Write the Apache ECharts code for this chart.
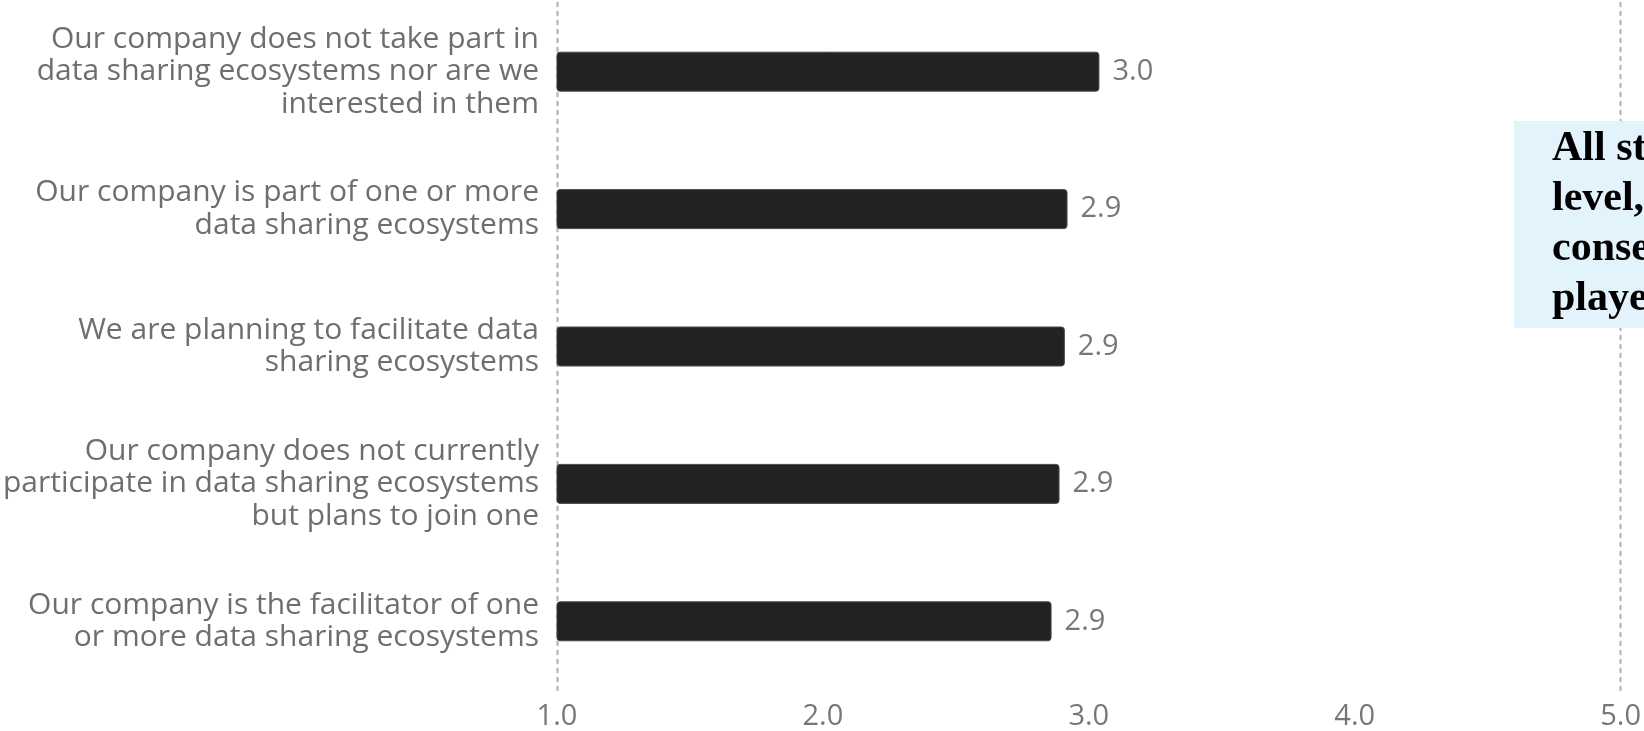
<!DOCTYPE html>
<html>
<head>
<meta charset="utf-8">
<script src="https://cdn.jsdelivr.net/npm/echarts@6/dist/echarts.min.js"></script>
<style>
  html, body { margin: 0; padding: 0; background: #ffffff; }
  #chart { width: 1644px; height: 731px; }
</style>
</head>
<body>
<div id="chart"></div>
<script>
// Survey answers (top to bottom) and their mean scores on a 1–5 scale
const categories = [
  'Our company does not take part in\ndata sharing ecosystems nor are we\ninterested in them',
  'Our company is part of one or more\ndata sharing ecosystems',
  'We are planning to facilitate data\nsharing ecosystems',
  'Our company does not currently\nparticipate in data sharing ecosystems\nbut plans to join one',
  'Our company is the facilitator of one\nor more data sharing ecosystems'
];
const scores = [3.04, 2.92, 2.91, 2.89, 2.86];
const scaleTicks = [1, 2, 3, 4, 5];

// Side note text, clipped by the right edge of the canvas
const noteLines = ['All st', 'level,', 'conse', 'playe'];

const chart = echarts.init(document.getElementById('chart'), null, { renderer: 'canvas' });

const dotted = { color: '#bdbdbd', width: 2.5, type: [3, 6] };

const noteGraphics = [{
  type: 'rect',
  left: 1514, top: 121,
  shape: { width: 140, height: 207 },
  style: { fill: '#e2f3fb' },
  z: 10
}].concat(noteLines.map((t, i) => ({
  type: 'text',
  x: 1552,
  y: 149 + i * 50,
  style: {
    text: t,
    fill: '#000000',
    font: 'bold 42px "Liberation Serif", serif',
    verticalAlign: 'middle',
    align: 'left'
  },
  z: 11
})));

chart.setOption({
  backgroundColor: '#ffffff',
  animation: false,
  grid: { left: 551, right: 22, top: 3, bottom: 41, containLabel: false },
  xAxis: {
    type: 'value',
    min: scaleTicks[0],
    max: scaleTicks[scaleTicks.length - 1],
    interval: 1,
    axisLine: { show: false },
    axisTick: { show: false },
    splitLine: { show: false },
    axisLabel: {
      margin: 12,
      fontFamily: 'Open Sans',
      fontSize: 29,
      color: '#777777',
      formatter: v => v.toFixed(1)
    }
  },
  yAxis: [{
    type: 'category',
    data: categories,
    inverse: true,
    axisLine: { show: true, lineStyle: dotted },
    axisTick: { show: false },
    splitLine: { show: false },
    axisLabel: {
      margin: 18,
      fontFamily: 'Open Sans',
      fontSize: 30,
      lineHeight: 32.5,
      color: '#6e6e6e',
      align: 'right'
    }
  }, {
    type: 'category',
    data: categories,
    inverse: true,
    position: 'right',
    axisLine: { show: true, lineStyle: dotted },
    axisTick: { show: false },
    axisLabel: { show: false },
    splitLine: { show: false }
  }],
  series: [{
    type: 'bar',
    data: scores,
    yAxisIndex: 0,
    barWidth: 40,
    itemStyle: {
      color: '#222222',
      borderColor: '#4a4a4a',
      borderWidth: 1,
      borderRadius: 3
    },
    label: {
      show: true,
      position: 'right',
      distance: 13,
      fontFamily: 'Open Sans',
      fontSize: 29,
      color: '#777777',
      formatter: p => p.value.toFixed(1)
    }
  }],
  graphic: noteGraphics
});
</script>
</body>
</html>
